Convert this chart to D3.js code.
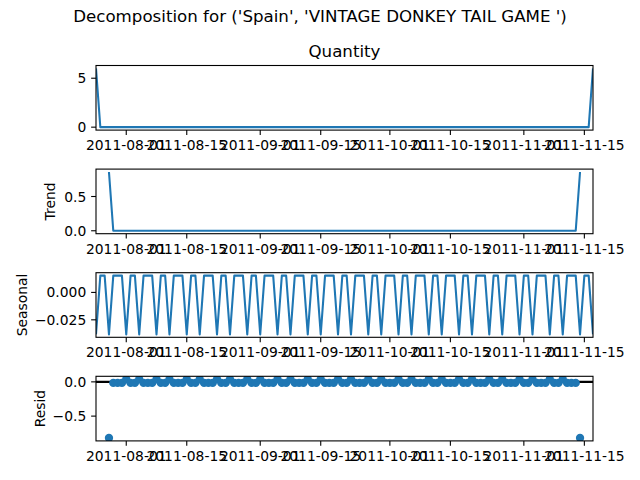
<!DOCTYPE html>
<html>
<head>
<meta charset="utf-8">
<script src="https://cdn.jsdelivr.net/npm/d3@7"></script>
<style>
  body { margin: 0; background: #fff; }
  text { font-family: "DejaVu Sans", sans-serif; fill: #000; }
</style>
</head>
<body>
<svg id="chart" width="640" height="480"></svg>
<script>
// daily index, 2011-07-25 .. 2011-11-17
var startDate = '2011-07-25', endDate = '2011-11-17';
var xTickLabels = ['2011-08-01', '2011-08-15', '2011-09-01', '2011-09-15',
                   '2011-10-01', '2011-10-15', '2011-11-01', '2011-11-15'];

var quantity = [
  6, 0, 0, 0, 0, 0, 0, 0, 0, 0,
  0, 0, 0, 0, 0, 0, 0, 0, 0, 0,
  0, 0, 0, 0, 0, 0, 0, 0, 0, 0,
  0, 0, 0, 0, 0, 0, 0, 0, 0, 0,
  0, 0, 0, 0, 0, 0, 0, 0, 0, 0,
  0, 0, 0, 0, 0, 0, 0, 0, 0, 0,
  0, 0, 0, 0, 0, 0, 0, 0, 0, 0,
  0, 0, 0, 0, 0, 0, 0, 0, 0, 0,
  0, 0, 0, 0, 0, 0, 0, 0, 0, 0,
  0, 0, 0, 0, 0, 0, 0, 0, 0, 0,
  0, 0, 0, 0, 0, 0, 0, 0, 0, 0,
  0, 0, 0, 0, 0, 6
];

var trend = [
  null, null, null, 0.8571, 0, 0, 0,
  0, 0, 0, 0, 0, 0, 0,
  0, 0, 0, 0, 0, 0, 0,
  0, 0, 0, 0, 0, 0, 0,
  0, 0, 0, 0, 0, 0, 0,
  0, 0, 0, 0, 0, 0, 0,
  0, 0, 0, 0, 0, 0, 0,
  0, 0, 0, 0, 0, 0, 0,
  0, 0, 0, 0, 0, 0, 0,
  0, 0, 0, 0, 0, 0, 0,
  0, 0, 0, 0, 0, 0, 0,
  0, 0, 0, 0, 0, 0, 0,
  0, 0, 0, 0, 0, 0, 0,
  0, 0, 0, 0, 0, 0, 0,
  0, 0, 0, 0, 0, 0, 0,
  0, 0, 0, 0, 0, 0, 0,
  0.8571, null, null, null
];

var seasonal = [
  -0.03827, 0.01531, 0.01531, -0.03827, 0.01531, 0.01531, 0.01531,
  -0.03827, 0.01531, 0.01531, -0.03827, 0.01531, 0.01531, 0.01531,
  -0.03827, 0.01531, 0.01531, -0.03827, 0.01531, 0.01531, 0.01531,
  -0.03827, 0.01531, 0.01531, -0.03827, 0.01531, 0.01531, 0.01531,
  -0.03827, 0.01531, 0.01531, -0.03827, 0.01531, 0.01531, 0.01531,
  -0.03827, 0.01531, 0.01531, -0.03827, 0.01531, 0.01531, 0.01531,
  -0.03827, 0.01531, 0.01531, -0.03827, 0.01531, 0.01531, 0.01531,
  -0.03827, 0.01531, 0.01531, -0.03827, 0.01531, 0.01531, 0.01531,
  -0.03827, 0.01531, 0.01531, -0.03827, 0.01531, 0.01531, 0.01531,
  -0.03827, 0.01531, 0.01531, -0.03827, 0.01531, 0.01531, 0.01531,
  -0.03827, 0.01531, 0.01531, -0.03827, 0.01531, 0.01531, 0.01531,
  -0.03827, 0.01531, 0.01531, -0.03827, 0.01531, 0.01531, 0.01531,
  -0.03827, 0.01531, 0.01531, -0.03827, 0.01531, 0.01531, 0.01531,
  -0.03827, 0.01531, 0.01531, -0.03827, 0.01531, 0.01531, 0.01531,
  -0.03827, 0.01531, 0.01531, -0.03827, 0.01531, 0.01531, 0.01531,
  -0.03827, 0.01531, 0.01531, -0.03827, 0.01531, 0.01531, 0.01531,
  -0.03827, 0.01531, 0.01531, -0.03827
];

var resid = [
  null, null, null, -0.8189, -0.01531, -0.01531, -0.01531,
  0.03827, -0.01531, -0.01531, 0.03827, -0.01531, -0.01531, -0.01531,
  0.03827, -0.01531, -0.01531, 0.03827, -0.01531, -0.01531, -0.01531,
  0.03827, -0.01531, -0.01531, 0.03827, -0.01531, -0.01531, -0.01531,
  0.03827, -0.01531, -0.01531, 0.03827, -0.01531, -0.01531, -0.01531,
  0.03827, -0.01531, -0.01531, 0.03827, -0.01531, -0.01531, -0.01531,
  0.03827, -0.01531, -0.01531, 0.03827, -0.01531, -0.01531, -0.01531,
  0.03827, -0.01531, -0.01531, 0.03827, -0.01531, -0.01531, -0.01531,
  0.03827, -0.01531, -0.01531, 0.03827, -0.01531, -0.01531, -0.01531,
  0.03827, -0.01531, -0.01531, 0.03827, -0.01531, -0.01531, -0.01531,
  0.03827, -0.01531, -0.01531, 0.03827, -0.01531, -0.01531, -0.01531,
  0.03827, -0.01531, -0.01531, 0.03827, -0.01531, -0.01531, -0.01531,
  0.03827, -0.01531, -0.01531, 0.03827, -0.01531, -0.01531, -0.01531,
  0.03827, -0.01531, -0.01531, 0.03827, -0.01531, -0.01531, -0.01531,
  0.03827, -0.01531, -0.01531, 0.03827, -0.01531, -0.01531, -0.01531,
  0.03827, -0.01531, -0.01531, 0.03827, -0.01531, -0.01531, -0.01531,
  -0.8189, null, null, null
];

var quantityTicks = [0, 5],
    trendTicks = [0, 0.5],
    seasonalTicks = [-0.025, 0],
    residTicks = [-0.5, 0];

var parse = d3.utcParse('%Y-%m-%d');
var dates = d3.utcDay.range(parse(startDate), d3.utcDay.offset(parse(endDate), 1));

var blue = '#1f77b4';
var left = 96, right = 593, top0 = 65.5, step = 103.6, h = 64.6;
var tickLen = 4.86;

var panels = [
  {values: quantity, ticks: quantityTicks, fmt: d3.format('d'), title: 'Quantity'},
  {values: trend, ticks: trendTicks, fmt: d3.format('.1f'), label: 'Trend', labelX: 49.5},
  {values: seasonal, ticks: seasonalTicks, fmt: d3.format('.3f'), label: 'Seasonal', labelX: 21.5},
  {values: resid, ticks: residTicks, fmt: d3.format('.1f'), label: 'Resid', labelX: 39.5, dots: true}
];

var svg = d3.select('#chart');

svg.append('text')
    .attr('x', 320).attr('y', 21.7)
    .attr('text-anchor', 'middle')
    .style('font-size', '16.67px')
    .text("Decomposition for ('Spain', 'VINTAGE DONKEY TAIL GAME ')");

var x = d3.scaleUtc()
    .domain([dates[0], dates[dates.length - 1]])
    .range([left, right]);

panels.forEach(function(p, k) {
  var top = top0 + k * step, bottom = top + h;

  var ext = d3.extent(p.values.filter(function(v) { return v != null; }));
  var pad = (ext[1] - ext[0]) * 0.05;
  var y = d3.scaleLinear()
      .domain([ext[0] - pad, ext[1] + pad])
      .range([bottom, top]);

  var g = svg.append('g');

  g.append('clipPath').attr('id', 'clip' + k)
    .append('rect')
      .attr('x', left).attr('y', top)
      .attr('width', right - left).attr('height', h);

  var plot = g.append('g').attr('clip-path', 'url(#clip' + k + ')');

  var pts = p.values.map(function(v, i) { return {date: dates[i], value: v}; });

  if (p.dots) {
    plot.append('line')
        .attr('x1', left).attr('x2', right)
        .attr('y1', y(0)).attr('y2', y(0))
        .attr('stroke', '#000').attr('stroke-width', 2.08);
    plot.selectAll('circle')
        .data(pts.filter(function(d) { return d.value != null; }))
        .enter().append('circle')
        .attr('cx', function(d) { return x(d.date); })
        .attr('cy', function(d) { return y(d.value); })
        .attr('r', 4.17)
        .attr('fill', blue);
  } else {
    var line = d3.line()
        .defined(function(d) { return d.value != null; })
        .x(function(d) { return x(d.date); })
        .y(function(d) { return y(d.value); });
    plot.append('path')
        .datum(pts)
        .attr('d', line)
        .attr('fill', 'none')
        .attr('stroke', blue)
        .attr('stroke-width', 2.08)
        .attr('stroke-linejoin', 'round');
  }

  // y ticks
  p.ticks.forEach(function(t) {
    g.append('line')
        .attr('x1', left).attr('x2', left - tickLen)
        .attr('y1', y(t)).attr('y2', y(t))
        .attr('stroke', '#000').attr('stroke-width', 1.1);
    g.append('text')
        .attr('x', left - tickLen - 4.86)
        .attr('y', y(t))
        .attr('dy', '0.36em')
        .attr('text-anchor', 'end')
        .style('font-size', '13.89px')
        .text(p.fmt(t));
  });

  // x ticks
  xTickLabels.forEach(function(s) {
    var xx = x(parse(s));
    g.append('line')
        .attr('x1', xx).attr('x2', xx)
        .attr('y1', bottom).attr('y2', bottom + tickLen)
        .attr('stroke', '#000').attr('stroke-width', 1.1);
    g.append('text')
        .attr('x', xx).attr('y', bottom + 20)
        .attr('text-anchor', 'middle')
        .style('font-size', '13.89px')
        .text(s);
  });

  g.append('rect')
      .attr('x', left).attr('y', top)
      .attr('width', right - left).attr('height', h)
      .attr('fill', 'none')
      .attr('stroke', '#000').attr('stroke-width', 1.1);

  if (p.title) {
    g.append('text')
        .attr('x', (left + right) / 2).attr('y', top - 8.8)
        .attr('text-anchor', 'middle')
        .style('font-size', '16.67px')
        .text(p.title);
  }
  if (p.label) {
    g.append('text')
        .attr('transform', 'translate(' + p.labelX + ',' + (top + h / 2) + ') rotate(-90)')
        .attr('dy', '0.36em')
        .attr('text-anchor', 'middle')
        .style('font-size', '13.89px')
        .text(p.label);
  }
});
</script>
</body>
</html>
